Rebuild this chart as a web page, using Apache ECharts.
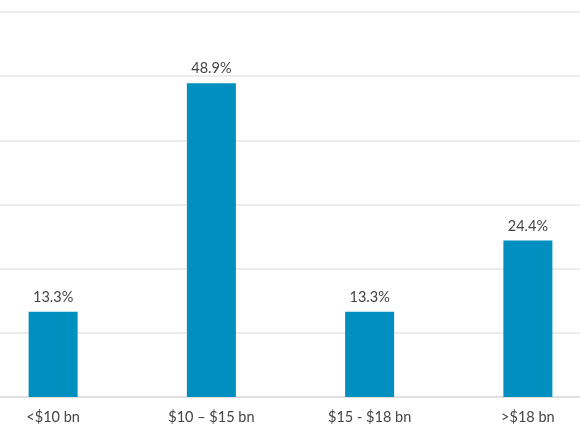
<!DOCTYPE html>
<html>
<head>
<meta charset="utf-8">
<script src="https://cdn.jsdelivr.net/npm/echarts@6/dist/echarts.min.js"></script>
<style>
  html, body { margin: 0; padding: 0; background: #fff; }
  #chart { width: 580px; height: 435px; }
</style>
</head>
<body>
<div id="chart"></div>
<script>
// 数据
var categories = ['<$10 bn', '$10 \u2013 $15 bn', '$15 - $18 bn', '>$18 bn'];
var shares = [13.3, 48.9, 13.3, 24.4];

var chart = echarts.init(document.getElementById('chart'));

var option = {
  animation: false,
  grid: {
    left: -26,
    right: -27,
    top: 12,
    bottom: 38,
    containLabel: false,
    outerBoundsMode: 'none'
  },
  xAxis: {
    type: 'category',
    data: categories,
    axisLine: { lineStyle: { color: '#dcdcdc', width: 1.5 } },
    axisTick: { show: false },
    axisLabel: {
      color: '#444',
      fontFamily: 'Lato',
      fontSize: 14.5,
      margin: 13
    }
  },
  yAxis: {
    type: 'value',
    min: 0,
    max: 60,
    interval: 10,
    axisLabel: { show: false },
    axisLine: { show: false },
    axisTick: { show: false },
    splitLine: { lineStyle: { color: '#e6e6e6', width: 1.5 } }
  },
  series: [
    {
      type: 'bar',
      data: shares,
      barWidth: 49,
      itemStyle: { color: '#008fbf' },
      label: {
        show: true,
        position: 'top',
        distance: 7,
        color: '#444',
        fontFamily: 'Lato',
        fontSize: 14.5,
        formatter: function (p) { return p.value.toFixed(1) + '%'; }
      }
    }
  ]
};

chart.setOption(option);
</script>
</body>
</html>
